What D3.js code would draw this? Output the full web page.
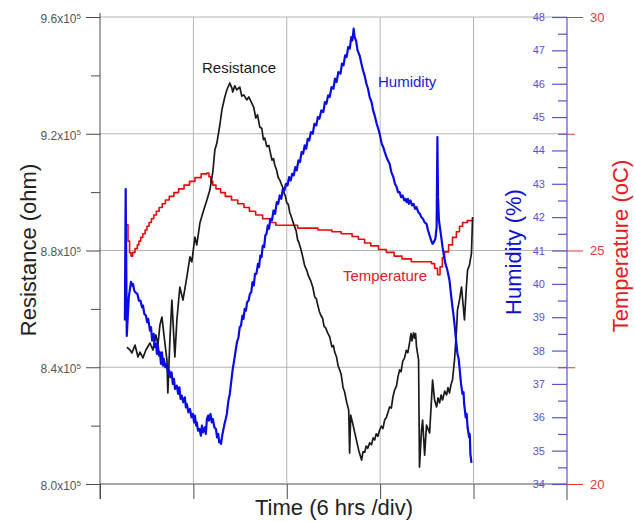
<!DOCTYPE html>
<html>
<head>
<meta charset="utf-8">
<script src="https://cdn.jsdelivr.net/npm/d3@7"></script>
<style>
  html, body { margin: 0; padding: 0; background: #fff; }
  svg { display: block; font-family: "Liberation Sans", Arial, Helvetica, sans-serif; }
</style>
</head>
<body>
<svg id="chart" width="635" height="522"></svg>
<script>
// Time axis: hours from start, one division = 6 h
const timeTicks = [0, 6, 12, 18, 24];
const resistanceTicks = [800000, 840000, 880000, 920000, 960000];
const resistanceMinor = [820000, 860000, 900000, 940000];
const humidityTicks = [34, 35, 36, 37, 38, 39, 40, 41, 42, 43, 44, 45, 46, 47, 48];
const humidityMinor = [34.5, 35.5, 36.5, 37.5, 38.5, 39.5, 40.5, 41.5, 42.5, 43.5, 44.5, 45.5, 46.5, 47.5];
const temperatureTicks = [20, 25, 30];
const temperatureMinor = [22.5, 27.5];

// Sensor resistance [hours, ohm]
const resistance = [
  [1.73,846900],[1.93,845900],[2.05,844900],[2.25,847600],[2.44,843500],[2.57,845200],
  [2.76,843200],[2.95,845900],[3.21,848300],[3.40,845900],[3.59,851100],[3.72,847600],
  [3.85,854500],[3.98,857200],[4.11,851100],[4.17,848300],[4.30,842500],[4.36,831200],
  [4.49,849300],[4.62,863000],[4.81,843500],[4.94,856200],[5.13,867500],[5.33,863000],
  [5.58,870900],[5.78,877800],[5.90,876100],[6.10,884600],[6.22,881900],[6.42,889400],
  [6.61,892900],[6.87,897300],[7.06,900700],[7.25,906900],[7.38,914400],[7.51,916800],
  [7.70,923000],[7.83,928100],[8.02,932600],[8.15,935000],[8.34,937400],[8.47,935700],
  [8.53,934300],[8.66,936400],[8.79,935000],[8.98,936000],[9.11,932900],[9.24,933300],
  [9.43,931600],[9.56,932600],[9.75,930500],[9.88,929000],[10.01,925400],[10.12,926500],
  [10.27,922300],[10.40,921800],[10.50,918000],[10.59,918500],[10.72,915600],[10.85,916000],
  [10.91,914400],[11.05,911000],[11.15,911500],[11.23,909300],[11.35,907500],[11.45,905000],
  [11.55,904200],[11.65,902800],[11.75,901500],[11.81,900000],[11.92,898500],[12.00,896300],
  [12.10,895800],[12.20,892800],[12.26,892200],[12.40,889800],[12.51,888100],[12.60,886800],
  [12.70,883600],[12.77,882900],[12.90,880600],[13.03,877800],[13.15,874800],[13.28,873300],
  [13.40,871200],[13.55,869500],[13.67,867500],[13.80,864000],[13.90,863500],[13.99,861300],
  [14.10,859000],[14.18,857900],[14.30,856800],[14.40,854000],[14.50,853500],[14.62,851900],
  [14.76,850400],[14.90,847000],[15.00,847500],[15.08,845200],[15.20,843500],[15.30,840500],
  [15.40,839100],[15.50,837500],[15.62,833000],[15.72,831500],[15.85,828000],[15.98,825400],
  [16.04,810600],[16.11,823600],[16.25,820500],[16.36,817800],[16.50,814500],[16.62,811600],
  [16.81,808200],[16.90,811000],[17.01,810900],[17.10,813000],[17.20,812200],[17.33,814100],
  [17.45,813500],[17.55,815800],[17.65,815100],[17.75,817200],[17.85,816300],[17.97,818500],
  [18.08,819800],[18.18,819000],[18.29,821900],[18.40,822800],[18.50,824500],[18.61,826400],
  [18.72,826000],[18.82,829800],[18.93,832200],[19.05,833500],[19.15,836800],[19.25,839100],
  [19.35,838500],[19.45,842000],[19.57,843200],[19.68,845800],[19.78,845000],[19.89,848300],
  [19.98,851500],[20.05,849000],[20.09,850400],[20.15,851800],[20.21,850000],[20.28,851500],
  [20.34,846900],[20.47,842500],[20.53,805800],[20.66,818500],[20.73,821900],[20.86,809900],
  [20.98,820200],[21.18,817500],[21.30,828800],[21.37,835600],[21.50,828800],[21.63,826400],
  [21.72,829500],[21.82,827800],[21.92,830500],[22.01,828800],[22.15,831800],[22.27,830500],
  [22.36,833000],[22.46,831200],[22.55,834000],[22.65,835600],[22.78,842500],[22.91,852800],
  [22.97,859600],[23.10,863000],[23.23,867500],[23.42,856200],[23.55,868200],[23.62,873300],
  [23.74,875000],[23.87,879100],[23.94,891500]
];

// Relative humidity [hours, %]
const humidity = [
  [1.60,38.9],[1.65,42.84],[1.72,38.44],[1.85,39.6],[1.99,40.06],[2.06,39.95],[2.12,40.0],
  [2.20,39.8],[2.31,39.73],[2.40,39.7],[2.50,39.5],[2.60,39.5],[2.70,39.3],[2.76,39.35],
  [2.85,39.1],[2.95,39.05],[3.03,38.85],[3.10,38.95],[3.21,38.6],[3.28,38.7],[3.35,38.3],
  [3.45,38.5],[3.52,38.1],[3.60,38.2],[3.66,37.9],[3.72,38.15],[3.80,37.85],[3.85,37.95],
  [3.92,37.6],[3.98,37.95],[4.05,37.55],[4.10,37.75],[4.20,37.5],[4.30,37.6],[4.38,37.3],
  [4.45,37.4],[4.52,37.2],[4.60,37.35],[4.68,37.0],[4.75,37.15],[4.82,36.85],[4.94,36.95],
  [5.02,36.7],[5.10,36.9],[5.18,36.55],[5.25,36.65],[5.35,36.45],[5.45,36.6],[5.52,36.3],
  [5.58,36.4],[5.68,36.15],[5.78,36.25],[5.88,36.0],[5.97,36.1],[6.05,35.85],[6.10,36.05],
  [6.18,35.75],[6.22,35.85],[6.30,35.6],[6.40,35.65],[6.48,35.45],[6.55,35.75],[6.62,35.55],
  [6.74,35.7],[6.80,35.5],[6.87,35.95],[6.95,36.05],[7.00,35.9],[7.10,36.1],[7.18,35.85],
  [7.25,35.95],[7.35,35.7],[7.45,35.65],[7.52,35.4],[7.60,35.5],[7.66,35.25],[7.70,35.3],
  [7.78,35.2],[7.85,35.45],[8.00,35.8],[8.08,35.95],[8.15,36.1],[8.25,36.5],[8.34,36.7],
  [8.44,37.1],[8.53,37.45],[8.62,37.7],[8.70,37.95],[8.80,38.25],[8.90,38.4],[8.98,38.7],
  [9.06,38.75],[9.15,39.05],[9.22,38.95],[9.30,39.25],[9.38,39.2],[9.45,39.45],[9.55,39.5],
  [9.63,39.7],[9.72,39.75],[9.80,40.05],[9.88,39.95],[9.96,40.3],[10.05,40.3],[10.15,40.6],
  [10.22,40.5],[10.30,40.85],[10.38,40.8],[10.46,41.15],[10.55,41.1],[10.62,41.45],
  [10.70,41.5],[10.78,41.75],[10.86,41.65],[10.95,41.95],[11.05,41.9],[11.15,42.2],
  [11.25,42.1],[11.36,42.45],[11.45,42.4],[11.55,42.65],[11.65,42.55],[11.75,42.85],
  [11.85,42.8],[11.95,43.0],[12.05,42.95],[12.15,43.2],[12.25,43.1],[12.35,43.3],[12.45,43.25],
  [12.55,43.5],[12.64,43.4],[12.75,43.7],[12.85,43.65],[12.95,43.95],[13.05,43.9],
  [13.15,44.15],[13.25,44.05],[13.35,44.35],[13.45,44.3],[13.55,44.55],[13.67,44.5],
  [13.78,44.8],[13.90,44.75],[14.00,45.0],[14.10,44.95],[14.22,45.2],[14.35,45.15],
  [14.45,45.45],[14.55,45.4],[14.66,45.65],[14.76,45.6],[14.88,45.9],[15.00,45.85],
  [15.10,46.15],[15.20,46.05],[15.32,46.35],[15.45,46.3],[15.55,46.6],[15.65,46.55],
  [15.75,46.85],[15.85,46.8],[15.95,47.1],[16.05,47.05],[16.15,47.4],[16.22,47.3],
  [16.30,47.65],[16.36,47.4],[16.45,47.3],[16.55,47.0],[16.68,46.85],[16.80,46.6],
  [16.90,46.4],[17.00,46.25],[17.12,46.0],[17.22,45.85],[17.33,45.6],[17.45,45.45],
  [17.55,45.2],[17.65,45.05],[17.78,44.8],[17.88,44.65],[17.97,44.5],[18.10,44.2],
  [18.20,44.1],[18.30,43.95],[18.45,43.75],[18.61,43.6],[18.72,43.35],[18.85,43.2],
  [18.95,43.0],[19.06,42.9],[19.15,42.75],[19.25,42.75],[19.35,42.6],[19.45,42.65],
  [19.55,42.5],[19.62,42.55],[19.70,42.45],[19.78,42.55],[19.85,42.4],[19.95,42.5],
  [20.05,42.35],[20.15,42.4],[20.25,42.25],[20.34,42.3],[20.45,42.15],[20.55,42.1],
  [20.65,42.0],[20.75,41.95],[20.85,41.85],[20.98,41.8],[21.08,41.6],[21.18,41.45],
  [21.28,41.3],[21.37,41.2],[21.45,41.25],[21.55,41.35],[21.63,41.7],[21.68,44.4],
  [21.72,42.6],[21.78,41.9],[21.90,41.5],[22.01,41.1],[22.10,40.85],[22.20,40.6],
  [22.30,40.45],[22.46,40.1],[22.55,39.7],[22.65,39.3],[22.72,39.05],[22.80,38.7],
  [22.88,38.3],[22.97,37.9],[23.05,37.75],[23.10,37.5],[23.20,37.0],[23.29,36.7],
  [23.36,36.75],[23.40,36.4],[23.50,36.0],[23.56,36.1],[23.62,35.7],[23.72,35.4],
  [23.76,35.5],[23.80,34.9],[23.87,34.63]
];

// Temperature readings, stepwise [hours, degC]
const temperature = [
  [1.70,25.55],[1.80,25.20],[1.90,24.95],[1.99,24.88],[2.10,24.96],[2.25,25.04],[2.40,25.12],
  [2.50,25.20],[2.62,25.28],[2.75,25.36],[2.90,25.44],[3.02,25.52],[3.15,25.60],[3.30,25.68],
  [3.45,25.76],[3.62,25.84],[3.80,25.92],[4.00,26.00],[4.20,26.08],[4.45,26.16],[4.75,26.24],
  [5.05,26.32],[5.40,26.40],[5.75,26.48],[6.10,26.56],[6.50,26.64],[6.87,26.66],[7.00,26.58],
  [7.12,26.48],[7.25,26.40],[7.45,26.32],[7.75,26.24],[8.05,26.16],[8.45,26.08],[8.85,26.00],
  [9.25,25.92],[9.60,25.84],[10.00,25.76],[10.45,25.68],[10.90,25.60],[11.30,25.54],
  [12.70,25.48],[14.00,25.44],[14.90,25.40],[15.50,25.36],[16.20,25.30],[16.60,25.24],
  [17.00,25.16],[17.40,25.10],[17.90,25.02],[18.40,24.96],[18.90,24.88],[19.40,24.82],
  [20.00,24.76],[21.30,24.72],[21.50,24.62],[21.69,24.48],[21.85,24.65],[22.00,24.85],
  [22.14,24.97],[22.40,25.12],[22.65,25.28],[22.90,25.40],[23.10,25.52],[23.30,25.60],
  [23.60,25.64],[23.94,25.66]
];

const svg = d3.select("#chart");

const plot = { left: 100, right: 473.5, top: 17, bottom: 484 };
const rightAxisX = 567;

const x = d3.scaleLinear().domain([0, 24]).range([plot.left, plot.right]);
const yR = d3.scaleLinear().domain([800000, 960000]).range([plot.bottom, plot.top]);
const yH = d3.scaleLinear().domain([34, 48]).range([plot.bottom, plot.top]);
const yT = d3.scaleLinear().domain([20, 30]).range([plot.bottom, plot.top]);

const gridColor = "#b4b4b4";
const axisColor = "#4a4a4a";
const humColor = "#5a52d6";
const tempColor = "#e23a3a";

// Horizontal grid, running across to the right-hand axes
svg.append("g").selectAll("line")
  .data(resistanceTicks)
  .join("line")
  .attr("x1", plot.left).attr("x2", rightAxisX)
  .attr("y1", d => yR(d)).attr("y2", d => yR(d))
  .attr("stroke", d => d === 800000 ? axisColor : gridColor)
  .attr("stroke-width", 1);

// Vertical grid
svg.append("g").selectAll("line")
  .data(timeTicks.slice(1))
  .join("line")
  .attr("x1", d => x(d)).attr("x2", d => x(d))
  .attr("y1", plot.top).attr("y2", plot.bottom)
  .attr("stroke", gridColor)
  .attr("stroke-width", 1);

// Bottom (time) axis
const xAxis = svg.append("g")
  .attr("transform", `translate(0,${plot.bottom})`)
  .call(d3.axisBottom(x).tickValues(timeTicks).tickSize(15).tickFormat(""));
xAxis.select(".domain").remove();
xAxis.selectAll(".tick line").attr("stroke", axisColor);

// Left (resistance) axis
svg.append("line")
  .attr("x1", plot.left).attr("x2", plot.left)
  .attr("y1", plot.top - 4).attr("y2", plot.bottom + 15)
  .attr("stroke", axisColor);

const leftMajor = svg.append("g")
  .attr("transform", `translate(${plot.left},0)`)
  .call(d3.axisLeft(yR).tickValues(resistanceTicks).tickSize(14).tickPadding(5));
leftMajor.select(".domain").remove();
leftMajor.selectAll(".tick line").attr("stroke", axisColor);
leftMajor.selectAll(".tick text")
  .attr("fill", "#555").attr("font-size", "12px")
  .text(d => (d / 1e5).toFixed(1) + "x10")
  .append("tspan")
  .attr("dy", "-0.55em").attr("font-size", "8px").text("5");
leftMajor.selectAll(".tick text").attr("dy", "0.45em");

const leftMinor = svg.append("g")
  .attr("transform", `translate(${plot.left},0)`)
  .call(d3.axisLeft(yR).tickValues(resistanceMinor).tickSize(9).tickFormat(""));
leftMinor.select(".domain").remove();
leftMinor.selectAll(".tick line").attr("stroke", axisColor);

// Right axes: humidity ticks to the left, temperature ticks to the right
svg.append("line")
  .attr("x1", rightAxisX).attr("x2", rightAxisX)
  .attr("y1", plot.bottom).attr("y2", plot.bottom + 16)
  .attr("stroke", axisColor);
svg.append("line")
  .attr("x1", rightAxisX).attr("x2", rightAxisX)
  .attr("y1", plot.top).attr("y2", plot.bottom)
  .attr("stroke", humColor).attr("stroke-width", 1.2);

const humMajor = svg.append("g")
  .attr("transform", `translate(${rightAxisX},0)`)
  .call(d3.axisLeft(yH).tickValues(humidityTicks).tickSize(15).tickPadding(7).tickFormat(d3.format("d")));
humMajor.select(".domain").remove();
humMajor.selectAll(".tick line").attr("stroke", humColor).attr("stroke-width", 1.2);
humMajor.selectAll(".tick text").attr("fill", humColor).attr("font-size", "11px");

const humMinor = svg.append("g")
  .attr("transform", `translate(${rightAxisX},0)`)
  .call(d3.axisLeft(yH).tickValues(humidityMinor).tickSize(9).tickFormat(""));
humMinor.select(".domain").remove();
humMinor.selectAll(".tick line").attr("stroke", humColor).attr("stroke-width", 1.2);

const tempMajor = svg.append("g")
  .attr("transform", `translate(${rightAxisX},0)`)
  .call(d3.axisRight(yT).tickValues(temperatureTicks).tickSize(16).tickPadding(7).tickFormat(d3.format("d")));
tempMajor.select(".domain").remove();
tempMajor.selectAll(".tick line").attr("stroke", tempColor);
tempMajor.selectAll(".tick text").attr("fill", tempColor).attr("font-size", "13px");

const tempMinor = svg.append("g")
  .attr("transform", `translate(${rightAxisX},0)`)
  .call(d3.axisRight(yT).tickValues(temperatureMinor).tickSize(8).tickFormat(""));
tempMinor.select(".domain").remove();
tempMinor.selectAll(".tick line").attr("stroke", tempColor);

// Data lines
const lineR = d3.line().x(d => x(d[0])).y(d => yR(d[1]));
const lineH = d3.line().x(d => x(d[0])).y(d => yH(d[1]));
const lineT = d3.line().x(d => x(d[0])).y(d => yT(d[1])).curve(d3.curveStepAfter);

svg.append("path").datum(temperature)
  .attr("d", lineT).attr("fill", "none")
  .attr("stroke", "#e80a0a").attr("stroke-width", 1.6).attr("stroke-linejoin", "round");

svg.append("path").datum(resistance)
  .attr("d", lineR).attr("fill", "none")
  .attr("stroke", "#1a1a1a").attr("stroke-width", 1.7).attr("stroke-linejoin", "round");

svg.append("path").datum(humidity)
  .attr("d", lineH).attr("fill", "none")
  .attr("stroke", "#0a0ae6").attr("stroke-width", 2.2).attr("stroke-linejoin", "round");

// Series labels
svg.append("text").attr("x", 202).attr("y", 73)
  .attr("font-size", "15px").attr("fill", "#1a1a1a").text("Resistance");
svg.append("text").attr("x", 378).attr("y", 87)
  .attr("font-size", "15px").attr("fill", "#2020d8").text("Humidity");
svg.append("text").attr("x", 343).attr("y", 281)
  .attr("font-size", "15px").attr("fill", "#e02020").text("Temperature");

// Axis titles
svg.append("text")
  .attr("transform", "translate(36,250) rotate(-90)")
  .attr("text-anchor", "middle").attr("font-size", "22px").attr("fill", "#222")
  .text("Resistance (ohm)");
svg.append("text")
  .attr("x", 334).attr("y", 515)
  .attr("text-anchor", "middle").attr("font-size", "22px").attr("fill", "#222")
  .text("Time (6 hrs /div)");
svg.append("text")
  .attr("transform", "translate(521,252) rotate(-90)")
  .attr("text-anchor", "middle").attr("font-size", "22px").attr("fill", "#1010d0")
  .text("Humidity (%)");
svg.append("text")
  .attr("transform", "translate(628,246) rotate(-90)")
  .attr("text-anchor", "middle").attr("font-size", "22px").attr("fill", "#e02020")
  .text("Temperature (oC)");
</script>
</body>
</html>
